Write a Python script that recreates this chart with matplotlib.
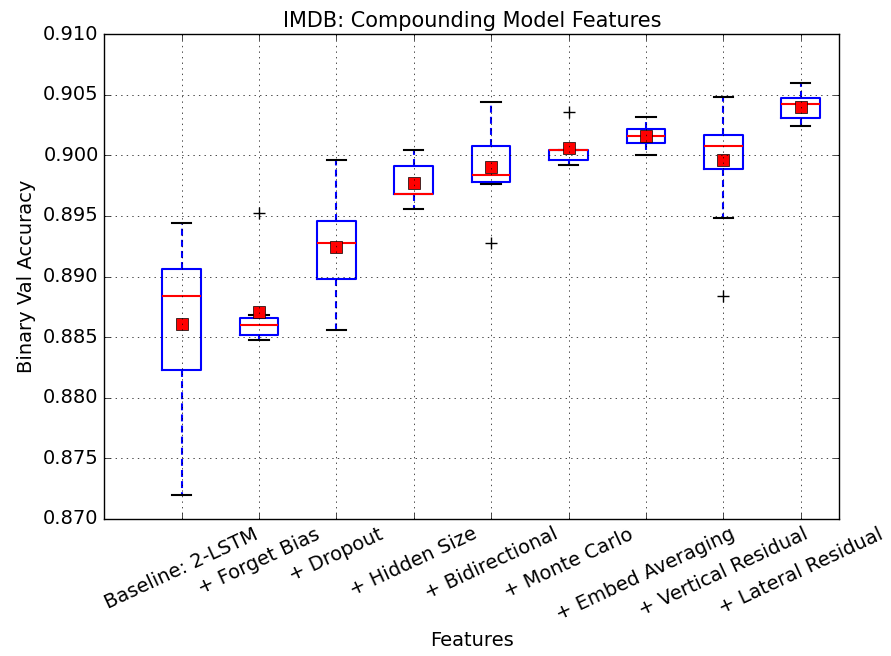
import numpy as np
import matplotlib
matplotlib.use("Agg")
import matplotlib.pyplot as plt

plt.style.use('classic')

### ~~~~~~~~~~~~~~~~~~~~~~~~~~~~~~~~~~~~~~~ ###
# values
features = ["Baseline: 2-LSTM", "+ Forget Bias", "+ Dropout", "+ Hidden Size",
            "+ Bidirectional", "+ Monte Carlo", "+ Embed Averaging",
            "+ Vertical Residual", "+ Lateral Residual"]
whisLow  = [0.8720, 0.8848, 0.8856, 0.8956, 0.8976, 0.8992, 0.9000, 0.8948, 0.9024]
q1       = [0.8823, 0.8852, 0.8898, 0.8968, 0.8978, 0.8996, 0.9010, 0.8989, 0.9031]
medians  = [0.8884, 0.8860, 0.8928, 0.8968, 0.8984, 0.9004, 0.9016, 0.9008, 0.9042]
q3       = [0.8906, 0.8866, 0.8946, 0.8991, 0.9008, 0.9004, 0.9022, 0.9017, 0.9047]
whisHigh = [0.8944, 0.8868, 0.8996, 0.9004, 0.9044, 0.9004, 0.9032, 0.9048, 0.9060]
means    = [0.8861, 0.8871, 0.8924, 0.8977, 0.8990, 0.9006, 0.9016, 0.8996, 0.9040]
fliers   = [[], [0.8952], [], [], [0.8928], [0.9036], [], [0.8884], []]

### ~~~~~~~~~~~~~~~~~~~~~~~~~~~~~~~~~~~~~~~ ###
stats = []
for i in range(len(features)):
    stats.append(dict(label=features[i], whislo=whisLow[i], q1=q1[i], med=medians[i],
                      q3=q3[i], whishi=whisHigh[i], mean=means[i], fliers=fliers[i]))

fig, ax = plt.subplots()
fig.set_size_inches(h=6.56, w=8.91)
fig.subplots_adjust(left=0.117, right=0.942, top=0.948, bottom=0.209)

ax.bxp(stats, positions=np.arange(1, len(features) + 1), widths=0.5, showmeans=True,
       boxprops=dict(color='blue', linewidth=1.5),
       whiskerprops=dict(color='blue', linestyle=(0, (5, 3)), linewidth=1.5),
       capprops=dict(color='black', linewidth=1.5),
       medianprops=dict(color='red', linewidth=1.5),
       meanprops=dict(marker='s', markerfacecolor='red', markeredgecolor='black', markersize=8),
       flierprops=dict(marker='+', markeredgecolor='black', markersize=8))

ax.set_xlim(0, 9.5)
ax.set_ylim(0.870, 0.910)
ax.set_yticks(np.arange(0.870, 0.9101, 0.005))
ax.yaxis.set_major_formatter(matplotlib.ticker.FormatStrFormatter('%.3f'))
ax.set_xticklabels(features, rotation=25, fontsize=14)
ax.tick_params(axis='y', labelsize=14)
ax.grid(True, color='black', linestyle=':')

ax.set_title("IMDB: Compounding Model Features", fontsize=15)
ax.set_xlabel("Features", fontsize=14)
ax.set_ylabel("Binary Val Accuracy", fontsize=14)

plt.savefig("out.png", dpi=100)
